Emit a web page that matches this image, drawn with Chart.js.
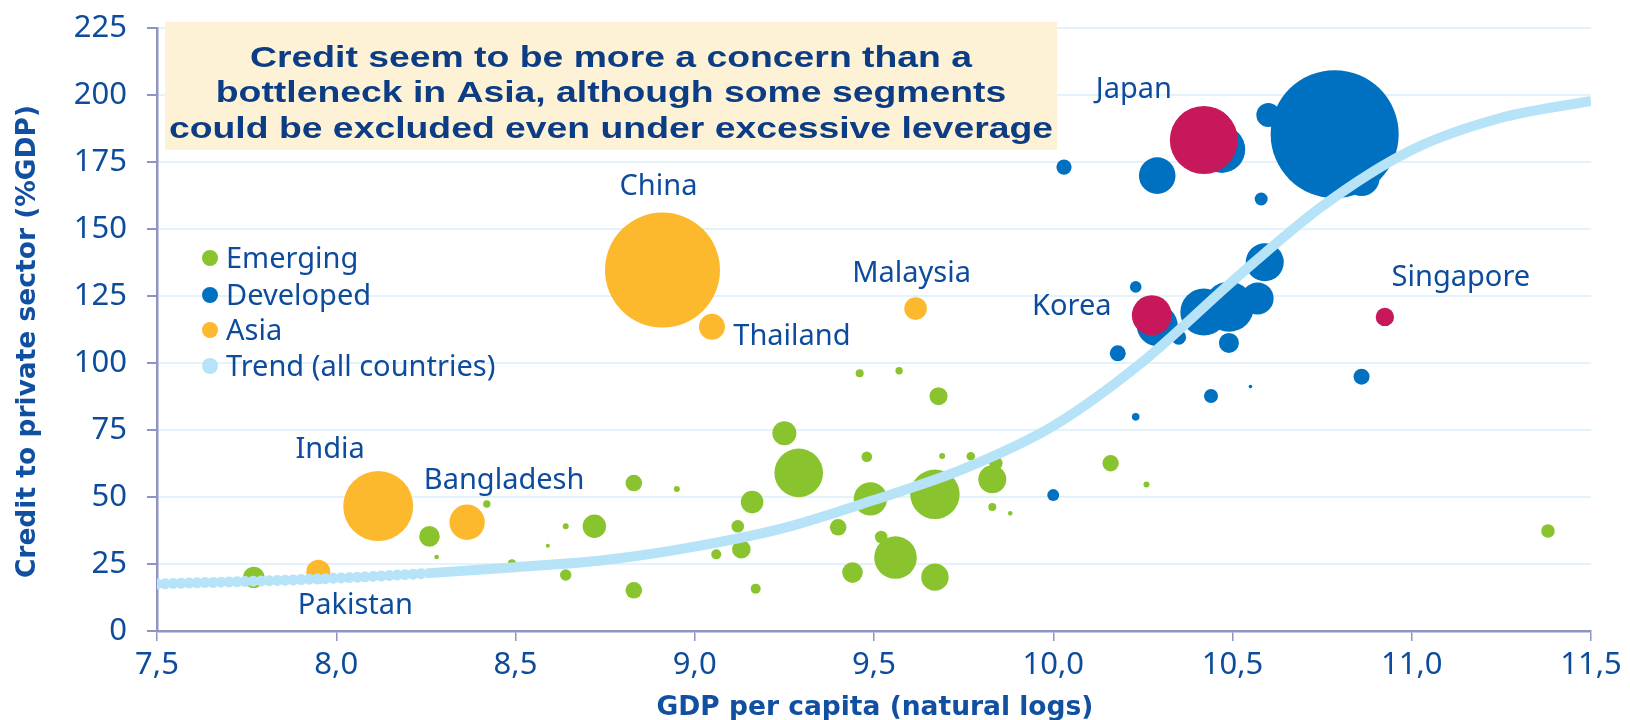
<!DOCTYPE html>
<html>
<head>
<meta charset="utf-8">
<script src="https://cdn.jsdelivr.net/npm/chart.js@4.4.1/dist/chart.umd.min.js"></script>
<style>
  html, body { margin: 0; padding: 0; background: #ffffff; }
  #wrap { width: 1630px; height: 720px; }
</style>
</head>
<body>
<div id="wrap"><canvas id="c" width="1630" height="720"></canvas></div>
<script>
// ---- data: GDP per capita (ln) vs credit to private sector (% of GDP), bubble size ~ economy size
const emergingX = [7.77, 8.26, 8.28, 8.42, 8.49, 8.59, 8.64, 8.72, 8.64, 8.83, 8.83, 9.46, 9.57, 9.68, 9.25, 9.29, 8.95, 9.16, 9.12, 9.13, 9.06, 9.17, 9.48, 9.49, 9.40, 9.52, 9.56, 9.44, 9.67, 9.67, 9.69, 9.77, 9.84, 9.83, 9.83, 9.88, 10.16, 10.26, 11.38];
const emergingY = [20.0, 35.3, 27.6, 47.4, 25.3, 31.8, 39.1, 39.1, 20.9, 55.2, 15.2, 96.2, 97.1, 87.6, 73.8, 59.0, 53.0, 48.1, 39.1, 30.5, 28.6, 15.8, 65.0, 49.3, 38.7, 35.1, 27.4, 21.8, 20.1, 51.0, 65.3, 65.2, 62.6, 56.6, 46.3, 43.9, 62.6, 54.7, 37.3];
const emergingR = [10.7, 10.3, 2.3, 3.7, 4, 2, 3, 11.7, 5.7, 8.3, 8.3, 4, 3.7, 9, 12, 24.3, 3, 11.3, 6.3, 9.3, 5, 5, 5.3, 16.7, 8.3, 6.3, 21.3, 10.3, 13.7, 24.7, 3, 4.3, 6.7, 14, 4, 2.3, 8.2, 3, 6.8];

const developedX = [10.00, 10.03, 10.29, 10.47, 10.60, 10.785, 10.86, 10.58, 10.59, 10.57, 10.42, 10.49, 10.49, 10.35, 10.29, 10.23, 10.18, 10.44, 10.55, 10.23, 10.86];
const developedY = [50.7, 173.1, 169.9, 179.7, 192.5, 185.4, 169.0, 161.2, 137.6, 124.1, 119.0, 121.0, 107.5, 109.6, 114.0, 128.4, 103.6, 87.7, 91.2, 79.9, 94.9];
const developedR = [6, 7.6, 18.3, 23.5, 12, 64, 18, 6.5, 19, 16, 23.5, 25, 10, 7.4, 20.5, 5.8, 8, 7, 1.8, 3.8, 8];

const asiaNames = ['Pakistan', 'India', 'Bangladesh', 'China', 'Thailand', 'Malaysia'];
const asiaX = [7.95, 8.117, 8.365, 8.91, 9.048, 9.616];
const asiaY = [22.1, 46.6, 40.6, 134.7, 113.5, 120.3];
const asiaR = [12, 35, 17.7, 57.5, 13, 11.3];

const asiaDevNames = ['Japan', 'Korea', 'Singapore'];
const asiaDevX = [10.42, 10.275, 10.925];
const asiaDevY = [183.2, 117.8, 117.2];
const asiaDevR = [34, 20, 9.2];

const trendX = [7.5, 8.0, 8.25, 8.5, 8.75, 9.0, 9.25, 9.5, 9.75, 10.0, 10.25, 10.5, 10.75, 11.0, 11.25, 11.5];
const trendY = [17.5, 19.7, 21.5, 23.8, 26.5, 31.5, 38.5, 48.9, 60.5, 76.5, 100.5, 130.5, 158.5, 179.5, 191.5, 197.8];

const xTicks = [7.5, 8.0, 8.5, 9.0, 9.5, 10.0, 10.5, 11.0, 11.5];
const yTicks = [0, 25, 50, 75, 100, 125, 150, 175, 200, 225];

const headline = [
  'Credit seem to be more a concern than a',
  'bottleneck in Asia, although some segments',
  'could be excluded even under excessive leverage'
];
const xTitle = 'GDP per capita (natural logs)';
const yTitle = 'Credit to private sector (%GDP)';

// ---- styling
const C = {
  green: '#89C42F', blue: '#0070C0', orange: '#FCB92D', magenta: '#C7185C',
  trend: '#B6E3F7', axis: '#8C95C4', grid: '#E4F2FB', text: '#0D4C9C',
  title: '#0B3C84', box: '#FEF2D6', axisTitle: '#1150A0'
};
// label placement relative to each bubble centre (pixels)
const labelOffsets = {
  Pakistan: [37, 42], India: [-48, -48], Bangladesh: [37, -33], China: [-4, -75],
  Thailand: [80, 18], Malaysia: [-4, -27], Japan: [-70, -42], Korea: [-80, 0], Singapore: [76, -31]
};

const pts = (xs, ys, rs) => xs.map((x, i) => ({ x, y: ys[i], r: rs[i] }));
const line = (xs, ys) => xs.map((x, i) => ({ x, y: ys[i] }));

const decor = {
  id: 'decor',
  beforeDatasetsDraw(chart) {
    const ctx = chart.ctx;
    ctx.save();
    // headline box
    ctx.fillStyle = C.box;
    ctx.fillRect(165, 22, 892, 128);
    ctx.fillStyle = C.title;
    ctx.font = 'bold 30px "Liberation Sans", Arial, sans-serif';
    ctx.textAlign = 'center';
    ctx.textBaseline = 'alphabetic';
    const sx = 722 / ctx.measureText(headline[0]).width;
    const baselines = [66.5, 102, 137.5];
    headline.forEach((t, i) => {
      ctx.save();
      ctx.translate(611, baselines[i]);
      ctx.scale(sx, 1);
      ctx.fillText(t, 0, 0);
      ctx.restore();
    });
    ctx.restore();
  },
  afterDatasetsDraw(chart) {
    const ctx = chart.ctx;
    const xs = chart.scales.x, ys = chart.scales.y;
    ctx.save();
    ctx.font = '29px "Noto Sans", sans-serif';
    ctx.fillStyle = C.text;
    ctx.textAlign = 'center';
    ctx.textBaseline = 'alphabetic';
    const put = (names, X, Y) => names.forEach((n, i) => {
      const o = labelOffsets[n];
      ctx.fillText(n, xs.getPixelForValue(X[i]) + o[0], ys.getPixelForValue(Y[i]) + o[1]);
    });
    put(asiaNames, asiaX, asiaY);
    put(asiaDevNames, asiaDevX, asiaDevY);

    // legend inside plot area
    const items = chart.data.datasets.filter(d => d.showInLegend);
    items.sort((a, b) => a.legendRank - b.legendRank);
    const baselines = [268, 305, 340, 376];
    ctx.textAlign = 'left';
    items.forEach((d, i) => {
      ctx.fillStyle = d.legendColor;
      ctx.beginPath();
      ctx.arc(210, baselines[i] - 10, 8, 0, Math.PI * 2);
      ctx.fill();
      ctx.fillStyle = C.text;
      ctx.fillText(d.label, 226, baselines[i]);
    });
    ctx.restore();
  },
  afterDraw(chart) {
    const ctx = chart.ctx;
    const a = chart.chartArea;
    ctx.save();
    ctx.fillStyle = C.axisTitle;
    ctx.font = 'bold 26.5px "DejaVu Sans", Verdana, sans-serif';
    ctx.textAlign = 'center';
    ctx.textBaseline = 'alphabetic';
    ctx.fillText(xTitle, (a.left + a.right) / 2 + 1, 715);
    ctx.translate(35, 341.5);
    ctx.rotate(-Math.PI / 2);
    ctx.fillText(yTitle, 0, 0);
    ctx.restore();
  }
};

const noScalePadding = s => { s.paddingTop = 0; s.paddingBottom = 0; s.paddingLeft = 0; s.paddingRight = 0; };
const dotted = c => c.p0.parsed.x < 8.2;

new Chart(document.getElementById('c'), {
  type: 'bubble',
  data: {
    datasets: [
      { type: 'line', label: 'Trend (all countries)', data: line(trendX, trendY), order: 0,
        borderColor: C.trend, borderWidth: 10, pointRadius: 0, fill: false,
        cubicInterpolationMode: 'monotone', borderCapStyle: 'butt',
        // the low-income end of the fitted curve is drawn as a row of dots
        segment: {
          borderDash: c => (dotted(c) ? [0.01, 8] : undefined),
          borderCapStyle: c => (dotted(c) ? 'round' : 'butt'),
          borderWidth: c => (dotted(c) ? 11 : 10)
        },
        showInLegend: true, legendRank: 3, legendColor: C.trend },
      { label: 'Asia (developed)', data: pts(asiaDevX, asiaDevY, asiaDevR), order: 1,
        backgroundColor: C.magenta, borderWidth: 0 },
      { label: 'Asia', data: pts(asiaX, asiaY, asiaR), order: 2,
        backgroundColor: C.orange, borderWidth: 0,
        showInLegend: true, legendRank: 2, legendColor: C.orange },
      { label: 'Developed', data: pts(developedX, developedY, developedR), order: 3,
        backgroundColor: C.blue, borderWidth: 0,
        showInLegend: true, legendRank: 1, legendColor: C.blue },
      { label: 'Emerging', data: pts(emergingX, emergingY, emergingR), order: 4,
        backgroundColor: C.green, borderWidth: 0,
        showInLegend: true, legendRank: 0, legendColor: C.green }
    ]
  },
  options: {
    responsive: false,
    animation: false,
    devicePixelRatio: 1,
    layout: { autoPadding: false, padding: { top: 28, right: 39, left: 0, bottom: 0 } },
    plugins: { legend: { display: false }, tooltip: { enabled: false } },
    elements: { point: { hoverRadius: 0 } },
    scales: {
      x: {
        type: 'linear', min: 7.5, max: 11.5,
        afterBuildTicks: s => { s.ticks = xTicks.map(v => ({ value: v })); },
        afterFit: s => { s.height = 89; noScalePadding(s); },
        grid: { drawOnChartArea: false, tickColor: C.axis, tickLength: 10, lineWidth: 1.5 },
        border: { color: C.axis, width: 2.5 },
        ticks: {
          padding: 6, color: C.text,
          font: { family: '"Noto Sans", sans-serif', size: 31 },
          callback: v => Number(v).toFixed(1).replace('.', ',')
        }
      },
      y: {
        type: 'linear', min: 0, max: 225,
        afterBuildTicks: s => { s.ticks = yTicks.map(v => ({ value: v })); },
        afterFit: s => { s.width = 157; noScalePadding(s); },
        grid: { color: C.grid, lineWidth: 2, tickColor: C.axis, tickLength: 10 },
        border: { color: C.axis, width: 2.5 },
        ticks: {
          padding: 20, color: C.text,
          font: { family: '"Noto Sans", sans-serif', size: 31 }
        }
      }
    }
  },
  plugins: [decor]
});
</script>
</body>
</html>
